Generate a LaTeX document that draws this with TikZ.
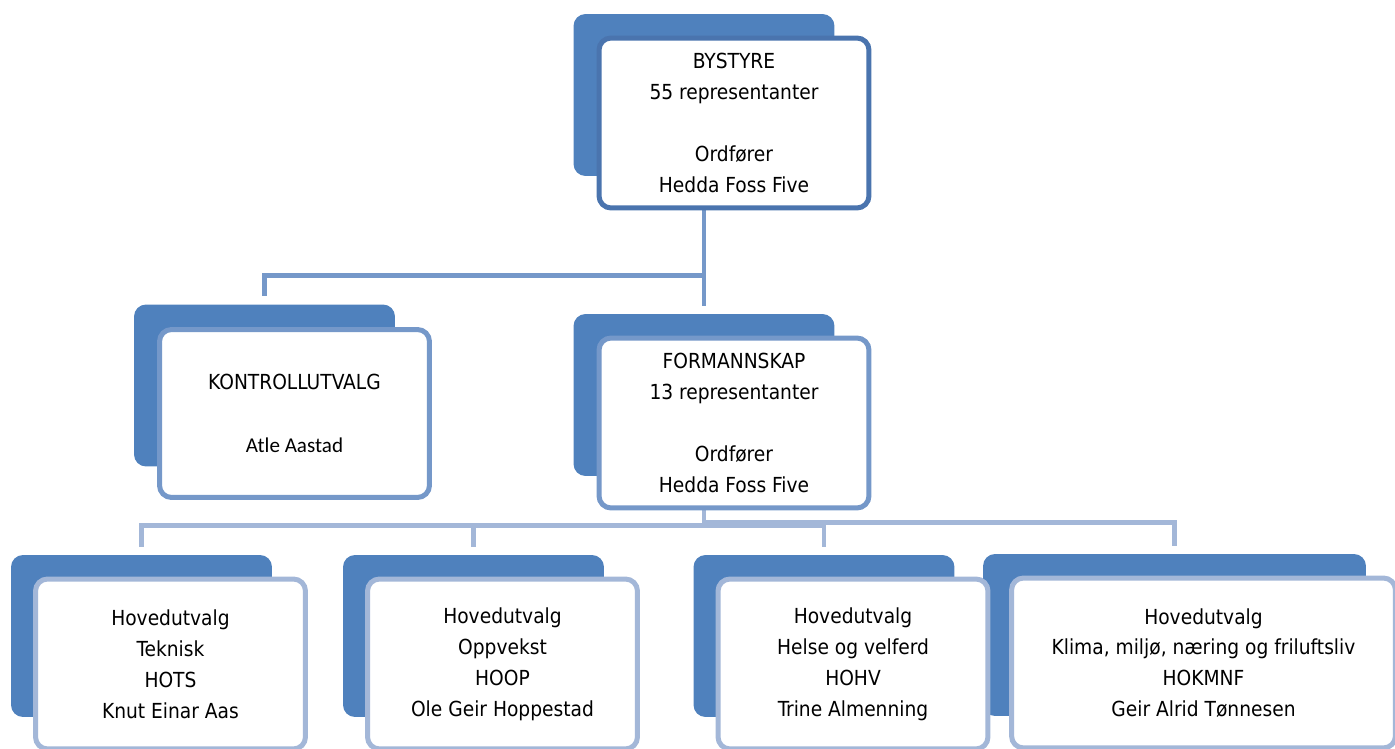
\documentclass[tikz,border=0pt]{standalone}
\usepackage{fontspec}
\setmainfont{DejaVu Sans Condensed}
\newfontfamily\carlito{Carlito}
\definecolor{backblue}{HTML}{4F81BD}
\definecolor{topline}{HTML}{4A74AE}
\definecolor{midline}{HTML}{7598C9}
\definecolor{lowline}{HTML}{A3B7D8}

\begin{document}
\begin{tikzpicture}[x=0.02cm,y=-0.02cm,
    back/.style={fill=backblue,rounded corners=0.24cm,minimum width=5.22cm,minimum height=3.24cm,inner sep=0pt},
    front/.style={draw=#1,line width=0.1cm,fill=white,rounded corners=0.24cm,minimum width=5.4cm,minimum height=3.4cm,
      inner sep=0pt,align=center,font=\fontsize{11.8pt}{17.6pt}\selectfont},
    conn/.style={draw=#1,line width=0.09cm,shorten >=0.16cm}]
  \useasboundingbox (0,0) rectangle (1395,749);

  % back plates
  \node[back] (bystyre-bg) at (704,95) {};
  \node[back] (kontroll-bg) at (264.5,385.5) {};
  \node[back] (formannskap-bg) at (704,395) {};
  \foreach \i/\x/\y/\bw in {1/141.5/636/5.22,2/473.5/636/5.22,3/824/636/5.22,4/1174.5/635/7.66}{
    \node[back,minimum width=\bw cm] (hu\i-bg) at (\x,\y) {};
  }

  % connectors
  \draw[conn=midline] (bystyre-bg.south) -- ++(0,99) -| (kontroll-bg.north);
  \draw[conn=midline] (bystyre-bg.south) -- (formannskap-bg.north);
  \foreach \i/\k in {1/49,2/49,3/49,4/46}{
    \draw[conn=lowline] (formannskap-bg.south) -- ++(0,\k) -| (hu\i-bg.north);
  }

  % front boxes
  \node[front=topline] (bystyre) at ([shift={(30,28)}]bystyre-bg) {BYSTYRE\\55 representanter\\[17.6pt]Ordfører\\Hedda Foss Five};
  \node[front=midline,minimum height=3.36cm] (kontroll) at ([shift={(30,28)}]kontroll-bg)
    {KONTROLLUTVALG\\[18.1pt]{\carlito\fontsize{12pt}{17.6pt}\selectfont Atle Aastad}};
  \node[front=midline] (formannskap) at ([shift={(30,28)}]formannskap-bg) {FORMANNSKAP\\13 representanter\\[17.6pt]Ordfører\\Hedda Foss Five};
  \foreach \i/\fw/\txt in {1/5.4/{Hovedutvalg\\Teknisk\\HOTS\\Knut Einar Aas},
                           2/5.4/{Hovedutvalg\\Oppvekst\\HOOP\\Ole Geir Hoppestad},
                           3/5.4/{Hovedutvalg\\Helse og velferd\\HOHV\\Trine Almenning},
                           4/7.68/{Hovedutvalg\\Klima, miljø, næring og friluftsliv\\HOKMNF\\Geir Alrid Tønnesen}}{
    \node[front=lowline,minimum width=\fw cm] (hu\i) at ([shift={(29,28)}]hu\i-bg) {\txt};
  }
\end{tikzpicture}
\end{document}
